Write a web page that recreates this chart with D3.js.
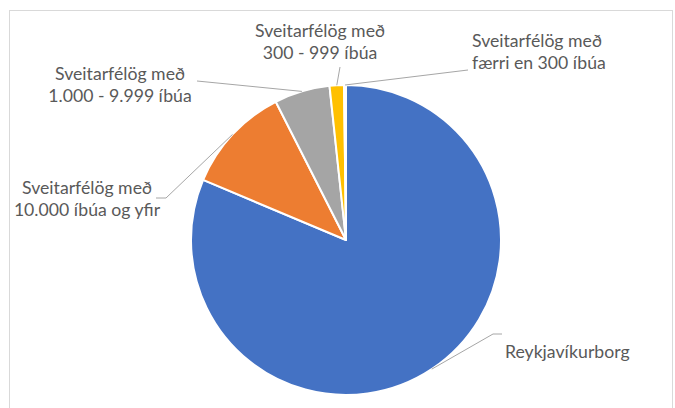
<!DOCTYPE html>
<html>
<head>
<meta charset="utf-8">
<script src="https://cdn.jsdelivr.net/npm/d3@7"></script>
<style>
  html, body { margin: 0; padding: 0; background: #fff; }
  svg { display: block; }
</style>
</head>
<body>
<svg id="chart" width="675" height="408"></svg>
<script>
// ---- data ----
const categories = [
  "Reykjavíkurborg",
  "Sveitarfélög með 10.000 íbúa og yfir",
  "Sveitarfélög með 1.000 - 9.999 íbúa",
  "Sveitarfélög með 300 - 999 íbúa",
  "Sveitarfélög með færri en 300 íbúa"
];
const values = [81.5, 11.2, 5.8, 1.5, 0.2];
const labelLines = [
  ["Reykjavíkurborg"],
  ["Sveitarfélög með", "10.000 íbúa og yfir"],
  ["Sveitarfélög með", "1.000 - 9.999 íbúa"],
  ["Sveitarfélög með", "300 - 999 íbúa"],
  ["Sveitarfélög með", "færri en 300 íbúa"]
];
const colors = ["#4472C4", "#ED7D31", "#A5A5A5", "#FFC000", "#5B9BD5"];

// ---- layout (label placement, not data) ----
const layout = [
  { x: 505, y: 358, anchor: "start", lead: [[502, 334], [493, 334]] },
  { x: 87,  y: 194, anchor: "middle", lead: [[156, 198], [166, 198]] },
  { x: 120, y: 80,  anchor: "middle", lead: [[197, 81]] },
  { x: 320, y: 37,  anchor: "middle", lead: [[340, 67]] },
  { x: 472, y: 47,  anchor: "start", lead: [[468, 70]] }
];

const svg = d3.select("#chart");
const cx = 346, cy = 240, R = 155;

// chart border
svg.append("rect")
  .attr("x", 9.5).attr("y", 10.5)
  .attr("width", 663).attr("height", 420)
  .attr("fill", "none").attr("stroke", "#d9d9d9").attr("stroke-width", 1);

const pie = d3.pie().sort(null).value(d => d)
  .startAngle(0).endAngle(2 * Math.PI);
const arcs = pie(values);
const arc = d3.arc().innerRadius(0).outerRadius(R);

const g = svg.append("g").attr("transform", `translate(${cx},${cy})`);
g.selectAll("path").data(arcs).join("path")
  .attr("d", arc)
  .attr("fill", (d, i) => colors[i])
  .attr("stroke", "#fff")
  .attr("stroke-width", 2)
  .attr("stroke-linejoin", "round");

// font sizing: match target width of "Sveitarfélög með"
const fontFamily = "Lato, 'Open Sans', sans-serif";
const probe = svg.append("text").attr("font-family", fontFamily)
  .attr("font-size", 100).text("Sveitarfélög með");
const w100 = probe.node().getComputedTextLength();
probe.remove();
const fontSize = 100 * 130 / w100;
const lineH = 22;

// leader lines
arcs.forEach((a, i) => {
  const mid = (a.startAngle + a.endAngle) / 2;
  const px = cx + R * Math.sin(mid);
  const py = cy - R * Math.cos(mid);
  const pts = layout[i].lead.concat([[px, py]]);
  svg.append("path")
    .attr("d", d3.line()(pts))
    .attr("fill", "none")
    .attr("stroke", "#a6a6a6")
    .attr("stroke-width", 1);
});

// labels
labelLines.forEach((lines, i) => {
  const L = layout[i];
  const t = svg.append("text")
    .attr("font-family", fontFamily)
    .attr("font-size", fontSize)
    .attr("fill", "#595959")
    .attr("text-anchor", L.anchor);
  lines.forEach((ln, k) => {
    t.append("tspan").attr("x", L.x).attr("y", L.y + k * lineH).text(ln);
  });
});
</script>
</body>
</html>
